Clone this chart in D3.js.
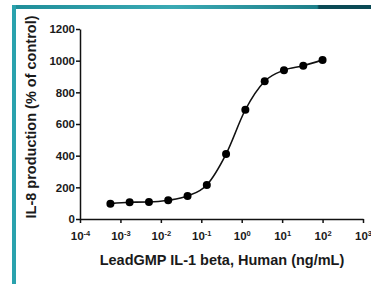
<!DOCTYPE html>
<html>
<head>
<meta charset="utf-8">
<style>
  body { margin: 0; background: #fff; }
  svg { display: block; }
  svg text { font-family: "Liberation Sans", Arial, sans-serif !important; font-weight: bold !important; fill: #1a1a1a; }
  .axis path, .axis line { stroke: #111; stroke-width: 1.5; }
</style>
<script src="https://cdn.jsdelivr.net/npm/d3@7"></script>
</head>
<body>
<div id="chart"></div>
<script>
// concentrations (ng/mL), 3-fold dilutions
var conc = [0.000565, 0.00169, 0.00508, 0.0152, 0.0457, 0.137, 0.41, 1.23, 3.7, 11.1, 33.3, 100];
// IL-8 production (% of control)
var il8 = [97, 106, 107, 118, 145, 215, 410, 690, 870, 940, 968, 1005];

var xTicks = [-4, -3, -2, -1, 0, 1, 2, 3];
var yTicks = [0, 200, 400, 600, 800, 1000, 1200];

var W = 371, H = 284;
var svg = d3.select("#chart").append("svg").attr("width", W).attr("height", H);

// frame
var defs = svg.append("defs");
var grad = defs.append("linearGradient").attr("id", "topbar");
grad.append("stop").attr("offset", "0%").attr("stop-color", "#1f8e99");
grad.append("stop").attr("offset", "45%").attr("stop-color", "#3aaab4");
grad.append("stop").attr("offset", "85%").attr("stop-color", "#1e7f89");
grad.append("stop").attr("offset", "85.5%").attr("stop-color", "#0b4a55");
grad.append("stop").attr("offset", "100%").attr("stop-color", "#0b4a55");
svg.append("rect").attr("x", 12).attr("y", 5).attr("width", W - 12).attr("height", 4).attr("fill", "url(#topbar)");
svg.append("rect").attr("x", 12).attr("y", 5).attr("width", 4).attr("height", H - 5).attr("fill", "#2aa2ad");

var x = d3.scaleLog().domain([1e-4, 1e3]).range([80, 363]);
var y = d3.scaleLinear().domain([0, 1200]).range([219, 29]);

// y axis
var yAxis = svg.append("g").attr("class", "axis").attr("transform", "translate(80,0)")
  .call(d3.axisLeft(y).tickValues(yTicks).tickSize(4).tickSizeOuter(0).tickFormat(d3.format("d")));
yAxis.selectAll("text").attr("font-size", 11.5).attr("x", -5);

// x axis
var xAxis = svg.append("g").attr("class", "axis").attr("transform", "translate(0,219)")
  .call(d3.axisBottom(x).tickValues(xTicks.map(function(e) { return Math.pow(10, e); })).tickSize(4).tickSizeOuter(0).tickFormat(""));
xAxis.selectAll(".tick").each(function(d, i) {
  var t = d3.select(this).append("text").attr("y", 21).attr("text-anchor", "middle")
    .attr("font-size", 11.5);
  t.append("tspan").text("10");
  t.append("tspan").attr("dy", -4).attr("font-size", 7.5).text(xTicks[i]);
});

// fitted curve through the points
var pts = conc.map(function(c, i) { return [c, il8[i]]; });
var line = d3.line().x(function(d) { return x(d[0]); }).y(function(d) { return y(d[1]); })
  .curve(d3.curveMonotoneX);
svg.append("path").datum(pts).attr("d", line).attr("fill", "none").attr("stroke", "#111").attr("stroke-width", 1.6);

svg.append("g").selectAll("circle").data(pts).enter().append("circle")
  .attr("cx", function(d) { return x(d[0]); })
  .attr("cy", function(d) { return y(d[1]); })
  .attr("r", 4).attr("fill", "#000");

// axis titles
svg.append("text").attr("x", 222).attr("y", 265).attr("text-anchor", "middle").attr("font-size", 14.5)
  .text("LeadGMP IL-1 beta, Human (ng/mL)");
svg.append("text").attr("transform", "translate(36,117) rotate(-90)").attr("text-anchor", "middle").attr("font-size", 14.5)
  .text("IL-8 production (% of control)");
</script>
</body>
</html>
